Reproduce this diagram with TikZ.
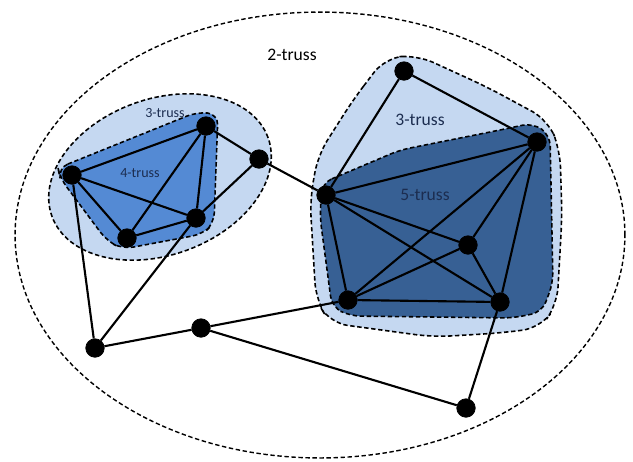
\documentclass[tikz,border=0pt]{standalone}
\usepackage{fontspec}
\setmainfont{Carlito}
\usepackage{tikz}
\definecolor{trusslight}{RGB}{197,216,241}
\definecolor{trussmid}{RGB}{84,138,212}
\definecolor{trussdark}{RGB}{55,96,148}
\definecolor{trusstext}{RGB}{28,45,80}
\tikzset{
    vtx/.style={shape=circle, draw=black, fill=black, inner sep=0pt, minimum size=0.37cm},
    edge/.style={line width=1.2pt},
    hull/.style={dashed, dash pattern=on 2.5pt off 1.5pt, line width=0.9pt, rounded corners=6pt}}

\begin{document}
\begin{tikzpicture}[x=0.02cm, y=-0.02cm]
        \useasboundingbox (0,0) rectangle (633,461);

            \draw[dashed, dash pattern=on 2.5pt off 1.5pt, line width=0.8pt] (320,235) ellipse [x radius=6.1cm, y radius=4.46cm];

            \draw[hull, fill=trusslight, rotate around={20:(160,177)}] (160,177) ellipse [x radius=2.3cm, y radius=1.56cm];
            \draw[hull, fill=trussmid] (58,168) -- (197,112) -- (218,114) -- (214,223) -- (203,234) -- (123,249) -- (107,241) -- (60,178) -- cycle;

            \draw[hull, rounded corners=10pt, fill=trusslight] (353,100) -- (385,58) -- (417,55) -- (487,87) -- (548,120) -- (560,150) -- (562,217) -- (557,305) -- (540,328) -- (500,333) -- (433,337) -- (330,323) -- (316,300) -- (310,200) -- (318,155) -- cycle;
            \draw[hull, fill=trussdark] (322,183) -- (400,150) -- (500,130) -- (533,123) -- (550,135) -- (553,283) -- (542,312) -- (513,318) -- (350,316) -- (332,307) -- (320,217) -- cycle;

            \node[font=\fontsize{10}{12}\selectfont] (T2) at (292,55) {2-truss};
            \node[font=\fontsize{8}{10}\selectfont, text=trusstext] (T3a) at (165,113) {3-truss};
            \node[font=\fontsize{8}{10}\selectfont, text=trusstext] (T4) at (140,173) {4-truss};
            \node[font=\fontsize{10}{12}\selectfont, text=trusstext] (T3b) at (420,120) {3-truss};
            \node[font=\fontsize{10}{12}\selectfont, text=trusstext] (T5) at (425,195) {5-truss};

            \node[vtx] (A) at (72,175) {};
            \node[vtx] (B) at (206,126) {};
            \node[vtx] (C) at (196,218) {};
            \node[vtx] (D) at (127,238) {};
            \node[vtx] (E) at (259,159) {};
            \node[vtx] (F) at (404,71) {};
            \node[vtx] (G) at (537,142) {};
            \node[vtx] (H) at (326,195) {};
            \node[vtx] (I) at (468,245) {};
            \node[vtx] (J) at (348,300) {};
            \node[vtx] (K) at (500,302) {};
            \node[vtx] (L) at (95,348) {};
            \node[vtx] (M) at (201,328) {};
            \node[vtx] (N) at (466,408) {};

            \draw[edge] (A) -- (B);
            \draw[edge] (A) -- (C);
            \draw[edge] (A) -- (D);
            \draw[edge] (B) -- (D);
            \draw[edge] (B) -- (C);
            \draw[edge] (D) -- (C);
            \draw[edge] (B) -- (E);
            \draw[edge] (E) -- (C);
            \draw[edge] (E) -- (H);
            \draw[edge] (A) -- (L);
            \draw[edge] (C) -- (L);
            \draw[edge] (L) -- (M);
            \draw[edge] (M) -- (J);
            \draw[edge] (M) -- (N);
            \draw[edge] (N) -- (K);

            \draw[edge] (F) -- (H);
            \draw[edge] (F) -- (G);
            \draw[edge] (H) -- (G);
            \draw[edge] (H) -- (I);
            \draw[edge] (H) -- (K);
            \draw[edge] (H) -- (J);
            \draw[edge] (G) -- (J);
            \draw[edge] (G) -- (I);
            \draw[edge] (G) -- (K);
            \draw[edge] (I) -- (J);
            \draw[edge] (I) -- (K);
            \draw[edge] (J) -- (K);

        \end{tikzpicture}
\end{document}
